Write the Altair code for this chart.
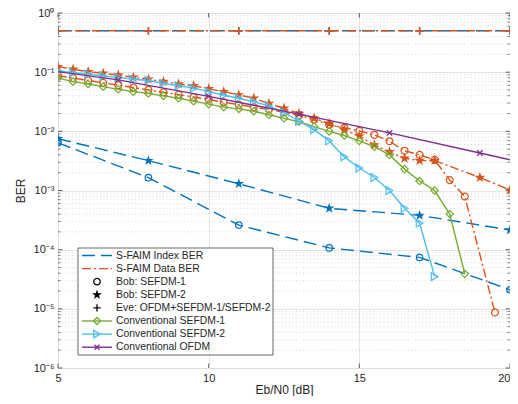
import altair as alt
import pandas as pd

# ---------------- data ----------------
idx_x = [5, 8, 11, 14, 17, 20]
idx_bob1 = [6.4e-3, 1.65e-3, 2.6e-4, 1.07e-4, 7.4e-5, 2.1e-5]
idx_bob2 = [7.5e-3, 3.2e-3, 1.3e-3, 5.0e-4, 3.8e-4, 2.15e-4]

eve_x = [5, 8, 11, 14, 17, 20]
eve_idx = [0.5, 0.5, 0.5, 0.5, 0.5, 0.5]
eve_data = [0.5, 0.5, 0.5, 0.5, 0.5, 0.5]

data_bob1_x = [5, 5.5, 6, 6.5, 7, 7.5, 8, 8.5, 9, 9.5, 10, 10.5, 11, 11.5, 12, 12.5,
               13, 13.5, 14, 14.5, 15, 15.5, 16, 16.5, 17, 17.5, 18, 18.5, 19.5]
data_bob1 = [0.0871, 0.0794, 0.0724, 0.0661, 0.0603, 0.0550, 0.0501, 0.0457, 0.0417,
             0.0380, 0.0347, 0.0309, 0.0282, 0.0257, 0.0234, 0.0209, 0.0186, 0.0158,
             0.0129, 0.0115, 0.0102, 0.0087, 0.0068, 0.0047, 0.0040, 0.0033, 0.0015,
             0.00079, 8.7e-6]

data_bob2_x = [5, 5.5, 6, 6.5, 7, 7.5, 8, 8.5, 9, 9.5, 10, 10.5, 11, 11.5, 12, 12.5,
               13, 13.5, 14, 14.5, 15, 15.5, 16, 16.5, 17, 17.5, 19, 20]
data_bob2 = [0.124, 0.112, 0.102, 0.0955, 0.0891, 0.0818, 0.0759, 0.0692, 0.0631,
             0.0589, 0.0525, 0.0468, 0.0412, 0.0363, 0.0295, 0.0245, 0.0200, 0.0166,
             0.0135, 0.0107, 0.0083, 0.0059, 0.0045, 0.0035, 0.0032, 0.0032, 0.00166,
             0.00102]

conv1_x = [5, 5.5, 6, 6.5, 7, 7.5, 8, 8.5, 9, 9.5, 10, 10.5, 11, 11.5, 12, 12.5,
           13, 13.5, 14, 14.5, 15, 15.5, 16, 16.5, 17, 17.5, 18, 18.5]
conv1 = [0.0794, 0.0692, 0.0631, 0.0569, 0.0513, 0.0468, 0.0437, 0.0398, 0.0363,
         0.0324, 0.0288, 0.0257, 0.0240, 0.0219, 0.0191, 0.0166, 0.0145, 0.0120,
         0.0100, 0.0085, 0.0069, 0.0055, 0.0040, 0.0023, 0.00145, 0.0010, 0.0004,
         3.9e-5]

conv2_x = [5, 5.5, 6, 6.5, 7, 7.5, 8, 8.5, 9, 9.5, 10, 10.5, 11, 11.5, 12, 12.5,
           13, 13.5, 14, 14.5, 15, 15.5, 16, 16.5, 17, 17.5]
conv2 = [0.106, 0.0977, 0.0933, 0.0861, 0.0818, 0.0759, 0.0724, 0.0646, 0.0589,
         0.0537, 0.0468, 0.0407, 0.0363, 0.0316, 0.0269, 0.0209, 0.0148, 0.0107,
         0.0069, 0.0037, 0.0024, 0.00166, 0.0010, 0.0005, 0.00028, 3.5e-5]

ofdm_x = [5, 7, 10, 13, 16, 19, 20]
ofdm = [0.102, 0.074, 0.039, 0.0195, 0.0094, 0.0043, 0.0033]
ofdm_marker_x = [7, 10, 13, 16, 19]

x_ticks = [5, 10, 15, 20]
y_decades = [1e-6, 1e-5, 1e-4, 1e-3, 1e-2, 1e-1, 1]
y_exp_labels = {0: "10⁰", -1: "10⁻¹", -2: "10⁻²", -3: "10⁻³", -4: "10⁻⁴", -5: "10⁻⁵", -6: "10⁻⁶"}
minor_vals = [k * 10.0 ** e for e in range(-6, 0) for k in range(2, 10)]

legend_labels = ["S-FAIM Index BER", "S-FAIM Data BER", "Bob: SEFDM-1", "Bob: SEFDM-2",
                 "Eve: OFDM+SEFDM-1/SEFDM-2", "Conventional SEFDM-1",
                 "Conventional SEFDM-2", "Conventional OFDM"]

# ---------------- styles ----------------
BLUE, RED, GREEN, CYAN, PURPLE = "#0072BD", "#D95319", "#77AC30", "#4DBEEE", "#7E2F8E"
INK = "#262626"
DASH = [13, 6]
DASHDOT = [9, 3, 2, 3]
STAR = ("M0,-1L0.225,-0.309L0.951,-0.309L0.363,0.118L0.588,0.809L0,0.382"
        "L-0.588,0.809L-0.363,0.118L-0.951,-0.309L-0.225,-0.309Z")
PLUS = "M-1,0L1,0M0,-1L0,1"
XMARK = "M-1,-1L1,1M-1,1L1,-1"
W, H = 452, 355
FONT = "Liberation Sans"

xs = alt.Scale(domain=[5, 20], nice=False, zero=False)
ys = alt.Scale(type="log", domain=[1e-6, 1], nice=False)

label_expr = ""
for e in range(-6, 0):
    label_expr += f"round(log(datum.value)/LN10)=={e}?'{y_exp_labels[e]}':"
label_expr += f"'{y_exp_labels[0]}'"

x_axis = alt.Axis(values=x_ticks, grid=True, gridColor="#dedede", gridWidth=0.8,
                  ticks=False, domain=False, labelFontSize=11, labelColor=INK,
                  labelPadding=4, title="Eb/N0 [dB]", titleFontSize=12,
                  titleFontWeight="normal", titleColor=INK, titlePadding=1, labelFont=FONT,
                  titleFont=FONT,
                  labelAlign={"condition": {"test": "datum.value >= 20", "value": "right"},
                              "value": "center"})
y_axis = alt.Axis(values=y_decades, grid=True, gridColor="#dedede", gridWidth=0.8,
                  ticks=False, domain=False, labelFontSize=11, labelColor=INK,
                  labelPadding=4, labelExpr=label_expr, title="BER", titleFontSize=12,
                  titleFontWeight="normal", titleColor=INK, titlePadding=6, labelFont=FONT,
                  titleFont=FONT)


def X():
    return alt.X("x:Q", scale=xs, axis=x_axis)


def Y():
    return alt.Y("ber:Q", scale=ys, axis=y_axis)


def sdf(xv, yv, marked=None):
    return pd.DataFrame({"x": xv, "ber": yv,
                         "mark": [True if marked is None else (v in marked) for v in xv]})


def line(df, color, dash=None):
    kw = dict(color=color, strokeWidth=1.4, clip=True)
    if dash is not None:
        kw["strokeDash"] = dash
    return alt.Chart(df).mark_line(**kw).encode(x=X(), y=Y(), order="x:Q")


def pts(df, color, shape, size, filled=False, sw=1.2):
    return alt.Chart(df[df["mark"]]).mark_point(
        shape=shape, size=size, filled=filled, color=color, strokeWidth=sw, opacity=1,
        clip=True).encode(x=X(), y=Y())


layers = []

# minor grid (dotted) and major/minor inward ticks
minor_df = pd.DataFrame({"ber": minor_vals})
layers.append(alt.Chart(minor_df).mark_rule(color="#c8c8c8", strokeDash=[1, 2.5],
                                            strokeWidth=0.7).encode(
    y=Y(), x=alt.value(0), x2=alt.value(W)))
for x0, x1 in [(0, 2.5), (W - 2.5, W)]:
    layers.append(alt.Chart(minor_df).mark_rule(color=INK, strokeWidth=0.6).encode(
        y=Y(), x=alt.value(x0), x2=alt.value(x1)))
dec_df = pd.DataFrame({"ber": y_decades})
for x0, x1 in [(0, 4.5), (W - 4.5, W)]:
    layers.append(alt.Chart(dec_df).mark_rule(color=INK, strokeWidth=0.7).encode(
        y=Y(), x=alt.value(x0), x2=alt.value(x1)))
xt_df = pd.DataFrame({"x": x_ticks})
for y0, y1 in [(H - 4.5, H), (0, 4.5)]:
    layers.append(alt.Chart(xt_df).mark_rule(color=INK, strokeWidth=0.7).encode(
        x=X(), y=alt.value(y0), y2=alt.value(y1)))

# index BER (blue dashed)
d = sdf(idx_x, idx_bob1)
layers += [line(d, BLUE, DASH), pts(d, BLUE, "circle", 42)]
d = sdf(idx_x, idx_bob2)
layers += [line(d, BLUE, DASH), pts(d, BLUE, STAR, 120, filled=True)]
d = sdf(eve_x, eve_idx)
layers += [line(d, BLUE, DASH), pts(d, BLUE, PLUS, 60, sw=1.4)]

# data BER (red dash-dot)
d = sdf(data_bob1_x, data_bob1)
layers += [line(d, RED, DASHDOT), pts(d, RED, "circle", 48)]
d = sdf(data_bob2_x, data_bob2)
layers += [line(d, RED, DASHDOT), pts(d, RED, STAR, 130, filled=True)]
d = sdf(eve_x, eve_data)
layers += [line(d, RED, DASHDOT), pts(d, RED, PLUS, 60, sw=1.4)]

# conventional
d = sdf(conv1_x, conv1)
layers += [line(d, GREEN), pts(d, GREEN, "diamond", 55)]
d = sdf(conv2_x, conv2)
layers += [line(d, CYAN), pts(d, CYAN, "triangle-right", 60)]
d = sdf(ofdm_x, ofdm, ofdm_marker_x)
layers += [line(d, PURPLE), pts(d, PURPLE, XMARK, 30, sw=1.3)]

# ---------------- legend ----------------
one = pd.DataFrame({"a": [0]})
LX0, LX1, LY0, LY1 = 20, 215, 235, 342
layers.append(alt.Chart(one).mark_rect(fill="white", stroke=INK, strokeWidth=0.7).encode(
    x=alt.value(LX0), x2=alt.value(LX1), y=alt.value(LY0), y2=alt.value(LY1)))
leg_style = [
    (BLUE, DASH, None, False),
    (RED, DASHDOT, None, False),
    (None, None, "circle", False),
    (None, None, STAR, True),
    (None, None, PLUS, False),
    (GREEN, "solid", "diamond", False),
    (CYAN, "solid", "triangle-right", False),
    (PURPLE, "solid", XMARK, False),
]
for i, (lab, (col, dash, shp, fil)) in enumerate(zip(legend_labels, leg_style)):
    yy = LY0 + 7.5 + 13.1 * i
    if col is not None:
        kw = dict(color=col, strokeWidth=1.4)
        if dash != "solid":
            kw["strokeDash"] = dash
        layers.append(alt.Chart(one).mark_rule(**kw).encode(
            x=alt.value(24), x2=alt.value(54), y=alt.value(yy)))
    if shp is not None:
        mcol = col if col is not None else "black"
        size = {"circle": 42, STAR: 110, PLUS: 50, "diamond": 50,
                "triangle-right": 55, XMARK: 25}[shp]
        layers.append(alt.Chart(one).mark_point(shape=shp, size=size, filled=fil,
                                                color=mcol, strokeWidth=1.3, opacity=1).encode(
            x=alt.value(39), y=alt.value(yy)))
    layers.append(alt.Chart(one).mark_text(text=lab, align="left", baseline="middle",
                                           fontSize=10.4, font=FONT, color=INK).encode(
        x=alt.value(58), y=alt.value(yy)))

chart = alt.layer(*layers).properties(
    width=W, height=H,
    padding={"left": 50, "top": 5, "right": 0, "bottom": 28},
    autosize=alt.AutoSizeParams(type="none"),
).configure_view(stroke=INK, strokeWidth=0.8).configure(font=FONT, background="white")

chart.save("out.html", embed_options={"renderer": "svg", "actions": False})
